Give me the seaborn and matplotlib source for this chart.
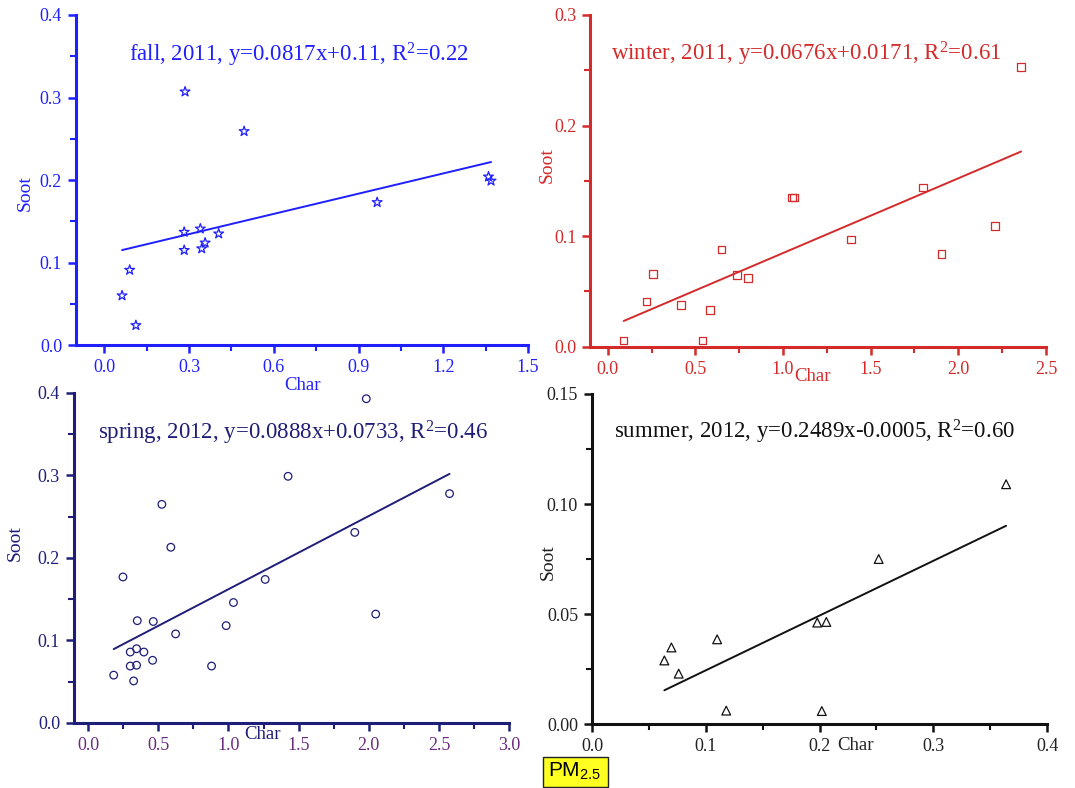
import numpy as np
import pandas as pd
import matplotlib
matplotlib.use('Agg')
import matplotlib.pyplot as plt
import seaborn as sns
from matplotlib.ticker import MultipleLocator, FormatStrFormatter
from matplotlib.patches import Rectangle

# Char vs Soot
fall_char = [0.063, 0.09, 0.112, 0.286, 0.283, 0.283, 0.34, 0.345, 0.357, 0.405, 0.495, 0.966, 1.36, 1.369]
fall_soot = [0.060, 0.091, 0.024, 0.307, 0.137, 0.115, 0.141, 0.117, 0.124, 0.135, 0.259, 0.173, 0.204, 0.199]

winter_char = [0.091, 0.221, 0.257, 0.417, 0.541, 0.585, 0.648, 0.737, 0.802, 1.051, 1.061, 1.389, 1.80, 1.903, 2.21, 2.358]
winter_soot = [0.0057, 0.041, 0.066, 0.038, 0.0057, 0.033, 0.088, 0.065, 0.062, 0.135, 0.135, 0.097, 0.144, 0.084, 0.109, 0.253]

spring_char = [0.183, 0.249, 0.301, 0.301, 0.325, 0.346, 0.346, 0.351, 0.398, 0.46, 0.465, 0.526,
               0.59, 0.624, 0.88, 0.984, 1.036, 1.262, 1.425, 1.9, 1.982, 2.049, 2.575]
spring_soot = [0.058, 0.177, 0.086, 0.069, 0.051, 0.090, 0.070, 0.124, 0.086, 0.076, 0.123, 0.265,
               0.213, 0.108, 0.069, 0.118, 0.146, 0.174, 0.299, 0.231, 0.393, 0.132, 0.278]

summer_char = [0.0636, 0.0698, 0.0762, 0.110, 0.118, 0.198, 0.206, 0.202, 0.252, 0.364]
summer_soot = [0.0289, 0.0348, 0.0229, 0.0385, 0.0061, 0.0461, 0.0464, 0.0059, 0.075, 0.109]

# fitted lines as given in the panel labels (slope, intercept)
fits = {'fall': (0.0817, 0.11), 'winter': (0.0676, 0.0171),
        'spring': (0.0888, 0.0733), 'summer': (0.2489, -0.0005)}

sns.set_style('ticks')
plt.rcParams['font.family'] = ['Liberation Serif', 'DejaVu Serif']
plt.rcParams['mathtext.default'] = 'regular'

fig = plt.figure(figsize=(10.75, 7.88), dpi=100)

panels = [
    dict(name='fall', x=fall_char, y=fall_soot, rect=[0.0707, 0.562, 0.4205, 0.419],
         color='#1f1fff', tcolor='#1f1fff', lcolor='#1f1fff', marker='*', s=55,
         xlim=(-0.1, 1.5), ylim=(0, 0.4), xmaj=0.3, ymaj=0.1, yfmt='%.1f',
         title='fall, 2011, y=0.0817x+0.11, R$^2$=0.22', tpos=(0.493, 0.879),
         xl=(0.5, -0.121), yl=(-0.113, 0.46)),
    dict(name='winter', x=winter_char, y=winter_soot, rect=[0.549, 0.560, 0.424, 0.421],
         color='#d42a2a', tcolor='#d42a2a', lcolor='#d42a2a', marker='s', s=30,
         xlim=(-0.1, 2.5), ylim=(0, 0.3), xmaj=0.5, ymaj=0.1, yfmt='%.1f',
         title='winter, 2011, y=0.0676x+0.0171, R$^2$=0.61', tpos=(0.474, 0.883),
         xl=(0.487, -0.09), yl=(-0.094, 0.548)),
    dict(name='spring', x=spring_char, y=spring_soot, rect=[0.0688, 0.0825, 0.4049, 0.4188],
         color='#1e1e78', tcolor='#6a2a80', lcolor='#1e1e78', marker='o', s=30,
         xlim=(-0.1, 3.0), ylim=(0, 0.4), xmaj=0.5, ymaj=0.1, yfmt='%.1f',
         title='spring, 2012, y=0.0888x+0.0733, R$^2$=0.46', tpos=(0.503, 0.879),
         xl=(0.433, -0.036), yl=(-0.136, 0.545)),
    dict(name='summer', x=summer_char, y=summer_soot, rect=[0.5507, 0.0812, 0.4233, 0.4188],
         color='#111111', tcolor='#222222', lcolor='#222222', marker='^', s=40,
         xlim=(0, 0.4), ylim=(0, 0.15), xmaj=0.1, ymaj=0.05, yfmt='%.2f',
         title='summer, 2012, y=0.2489x-0.0005, R$^2$=0.60', tpos=(0.49, 0.885),
         xl=(0.578, -0.064), yl=(-0.097, 0.49)),
]

for p in panels:
    ax = fig.add_axes(p['rect'])
    df = pd.DataFrame({'Char': p['x'], 'Soot': p['y']})
    sns.scatterplot(data=df, x='Char', y='Soot', ax=ax, marker=p['marker'], s=p['s'],
                    facecolor='none', edgecolor=p['color'], linewidth=0.9, zorder=3)

    slope, icpt = fits[p['name']]
    xs = np.array([min(p['x']), max(p['x'])])
    sns.lineplot(x=xs, y=slope * xs + icpt, ax=ax, color=p['color'], linewidth=1.4)

    ax.set_xlim(*p['xlim'])
    ax.set_ylim(*p['ylim'])
    ax.xaxis.set_major_locator(MultipleLocator(p['xmaj']))
    ax.xaxis.set_minor_locator(MultipleLocator(p['xmaj'] / 2))
    ax.yaxis.set_major_locator(MultipleLocator(p['ymaj']))
    ax.yaxis.set_minor_locator(MultipleLocator(p['ymaj'] / 2))
    ax.xaxis.set_major_formatter(FormatStrFormatter('%.1f'))
    ax.yaxis.set_major_formatter(FormatStrFormatter(p['yfmt']))

    sns.despine(ax=ax)
    for side in ['left', 'bottom']:
        ax.spines[side].set_color(p['color'])
        ax.spines[side].set_linewidth(2.2)
    ax.tick_params(which='major', direction='out', length=6, width=1.8, color=p['color'],
                   labelsize=13, pad=4)
    ax.tick_params(which='minor', direction='out', length=4, width=1.5, color=p['color'])
    ax.tick_params(axis='x', labelcolor=p['tcolor'])
    ax.tick_params(axis='y', labelcolor=p['lcolor'])
    ax.patch.set_alpha(0)

    ax.set_xlabel('Char', fontsize=13.5, color=p['lcolor'])
    ax.set_ylabel('Soot', fontsize=14, color=p['lcolor'])
    ax.xaxis.set_label_coords(*p['xl'])
    ax.yaxis.set_label_coords(*p['yl'])
    ax.xaxis.label.set_va('center')
    ax.yaxis.label.set_va('center')

    ax.text(p['tpos'][0], p['tpos'][1], p['title'], transform=ax.transAxes,
            ha='center', va='center', fontsize=16.5, color=p['color'])

# PM2.5 tag at the bottom
fig.patches.append(Rectangle((543 / 1075, 1 - 787 / 788), 65 / 1075, 30 / 788,
                             transform=fig.transFigure, facecolor='#ffff22',
                             edgecolor='#222222', linewidth=1.0))
fig.text(575 / 1075, 1 - 771 / 788, 'PM$_{2.5}$', ha='center', va='center',
         fontsize=15, family='Liberation Sans', color='black')

fig.savefig('out.png', dpi=100)
